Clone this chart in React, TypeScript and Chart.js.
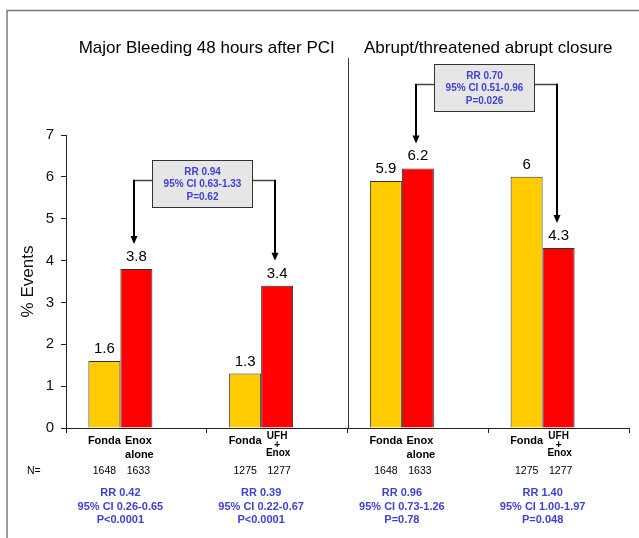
import React, { useEffect, useRef } from "react";
import { Chart, registerables } from "chart.js";

Chart.register(...registerables);

// ---------- data ----------
const groups = [
  "Major bleeding: Fonda vs Enox alone",
  "Major bleeding: Fonda vs UFH + Enox",
  "Abrupt closure: Fonda vs Enox alone",
  "Abrupt closure: Fonda vs UFH + Enox",
];
const fondaValues = [1.6, 1.3, 5.9, 6];
const comparatorValues = [3.8, 3.4, 6.2, 4.3];
const fondaLabel = "Fonda";
const comparatorLabels = [
  ["Enox", "alone"],
  ["UFH", "+", "Enox"],
  ["Enox", "alone"],
  ["UFH", "+", "Enox"],
];
const nLabel = "N=";
const fondaN = [1648, 1275, 1648, 1275];
const comparatorN = [1633, 1277, 1633, 1277];
const groupStats = [
  ["RR 0.42", "95% CI 0.26-0.65", "P<0.0001"],
  ["RR 0.39", "95% CI 0.22-0.67", "P<0.0001"],
  ["RR 0.96", "95% CI 0.73-1.26", "P=0.78"],
  ["RR 1.40", "95% CI 1.00-1.97", "P=0.048"],
];
const panelTitles = ["Major Bleeding 48 hours after PCI", "Abrupt/threatened abrupt closure"];
const comparisonStats = [
  ["RR 0.94", "95% CI 0.63-1.33", "P=0.62"],
  ["RR 0.70", "95% CI 0.51-0.96", "P=0.026"],
];
const yAxisTitle = "% Events";
const yMin = 0;
const yMax = 7;
const yStep = 1;

// ---------- style ----------
const FONT = '"Liberation Sans", Arial, Helvetica, sans-serif';
const BLUE = "#4141cf";
const YELLOW = "#FFCC00";
const RED = "#FF0000";

const overlay = {
  id: "overlay",
  beforeDraw(chart: any) {
    const { ctx, width, height } = chart;
    ctx.save();
    ctx.fillStyle = "#ffffff";
    ctx.fillRect(0, 0, width, height);
    ctx.strokeStyle = "#7a7a7a";
    ctx.lineWidth = 1.5;
    ctx.beginPath();
    ctx.moveTo(7, height);
    ctx.lineTo(7, 10.5);
    ctx.lineTo(width, 10.5);
    ctx.stroke();
    ctx.restore();
  },
  afterDraw(chart: any) {
    const { ctx, chartArea } = chart;
    const xs = chart.scales.x;
    const ys = chart.scales.y;
    const fMeta = chart.getDatasetMeta(0);
    const cMeta = chart.getDatasetMeta(1);
    const n = groups.length;
    const bound = (i: number) => xs.left + (i * (xs.right - xs.left)) / n;
    const bottom = chartArea.bottom;

    ctx.save();
    // divider between panels
    const dx = Math.round(bound(2)) + 0.5;
    ctx.strokeStyle = "#333";
    ctx.lineWidth = 1;
    ctx.beginPath();
    ctx.moveTo(dx, 58);
    ctx.lineTo(dx, bottom);
    ctx.stroke();

    // panel titles
    ctx.fillStyle = "#000";
    ctx.textAlign = "center";
    ctx.textBaseline = "middle";
    ctx.font = `17px ${FONT}`;
    ctx.fillText(panelTitles[0], (bound(0) + bound(2)) / 2, 48);
    ctx.fillText(panelTitles[1], (bound(2) + bound(4)) / 2, 48);

    // value labels
    ctx.font = `15px ${FONT}`;
    ctx.textBaseline = "alphabetic";
    fMeta.data.forEach((el: any, i: number) => {
      ctx.fillText(String(fondaValues[i]), el.x, el.y - 8);
    });
    cMeta.data.forEach((el: any, i: number) => {
      ctx.fillText(String(comparatorValues[i]), el.x, el.y - 8);
    });

    // category labels
    ctx.textBaseline = "middle";
    for (let i = 0; i < n; i++) {
      const fx = fMeta.data[i].x;
      const cx = cMeta.data[i].x;
      ctx.fillStyle = "#000";
      ctx.font = `bold 11px ${FONT}`;
      ctx.fillText(fondaLabel, fx, bottom + 13);
      const lines = comparatorLabels[i];
      if (lines.length === 2) {
        ctx.fillText(lines[0], cx + 2, bottom + 13);
        ctx.fillText(lines[1], cx + 3, bottom + 27);
      } else {
        ctx.font = `bold 10px ${FONT}`;
        ctx.fillText(lines[0], cx, bottom + 8);
        ctx.fillText(lines[1], cx, bottom + 17);
        ctx.fillText(lines[2], cx + 1, bottom + 25);
      }
      // N row
      ctx.font = `10.5px ${FONT}`;
      ctx.fillText(String(fondaN[i]), fx, bottom + 43);
      ctx.fillText(String(comparatorN[i]), cx + 2, bottom + 43);
      // stats
      ctx.fillStyle = BLUE;
      ctx.font = `bold 11px ${FONT}`;
      const sx = (fx + cx) / 2;
      groupStats[i].forEach((t, k) => ctx.fillText(t, sx, bottom + 65 + k * 13.5));
    }
    ctx.fillStyle = "#000";
    ctx.font = `10.5px ${FONT}`;
    ctx.textAlign = "left";
    ctx.fillText(nLabel, 27, bottom + 43);

    // comparison boxes with arrows
    const boxTopValues = [6.4, 8.7];
    for (let k = 0; k < 2; k++) {
      const e1 = cMeta.data[2 * k];
      const e2 = cMeta.data[2 * k + 1];
      const a1 = Math.round(e1.x - 2);
      const a2 = Math.round(e2.x - 2);
      const bw = 100;
      const bh = 47;
      const bcx = (a1 + a2) / 2 - 3;
      const bl = Math.round(bcx - bw / 2) + 0.5;
      const bt = Math.round(ys.getPixelForValue(boxTopValues[k])) + 0.5;
      const cy = bt + 20;

      // horizontal connectors
      ctx.strokeStyle = "#444";
      ctx.lineWidth = 1.5;
      ctx.beginPath();
      ctx.moveTo(bl, cy);
      ctx.lineTo(a1, cy);
      ctx.moveTo(bl + bw, cy);
      ctx.lineTo(a2, cy);
      ctx.stroke();

      // vertical arrows
      [
        [a1, e1.y - 25],
        [a2, e2.y - 25],
      ].forEach(([ax, tip]) => {
        ctx.strokeStyle = "#000";
        ctx.lineWidth = 2;
        ctx.beginPath();
        ctx.moveTo(ax, cy - 0.75);
        ctx.lineTo(ax, tip - 6);
        ctx.stroke();
        ctx.fillStyle = "#000";
        ctx.beginPath();
        ctx.moveTo(ax - 3.5, tip - 8);
        ctx.lineTo(ax + 3.5, tip - 8);
        ctx.lineTo(ax, tip);
        ctx.closePath();
        ctx.fill();
      });

      // box
      ctx.fillStyle = "#e6e6e6";
      ctx.fillRect(bl, bt, bw, bh);
      ctx.strokeStyle = "#333";
      ctx.lineWidth = 1;
      ctx.strokeRect(bl, bt, bw, bh);
      ctx.fillStyle = BLUE;
      ctx.font = `bold 10px ${FONT}`;
      ctx.textAlign = "center";
      ctx.textBaseline = "middle";
      comparisonStats[k].forEach((t, j) => ctx.fillText(t, bl + bw / 2, bt + 11.5 + j * 12.5));
    }
    ctx.restore();
  },
};

export default function App() {
  const canvasRef = useRef<HTMLCanvasElement | null>(null);

  useEffect(() => {
    const canvas = canvasRef.current;
    if (!canvas) return;
    const chart = new Chart(canvas, {
      type: "bar",
      data: {
        labels: groups,
        datasets: [
          {
            label: "Fonda",
            data: fondaValues,
            backgroundColor: YELLOW,
            borderColor: "#333",
            borderWidth: 1,
          },
          {
            label: "Comparator",
            data: comparatorValues,
            backgroundColor: RED,
            borderColor: "#333",
            borderWidth: 1,
          },
          {
            label: "",
            data: [],
          },
        ],
      },
      options: {
        responsive: false,
        animation: false,
        devicePixelRatio: 1,
        layout: { padding: { left: 18, right: 10, top: 135, bottom: 0 } },
        datasets: {
          bar: { barPercentage: 1, categoryPercentage: 0.682 },
        },
        plugins: {
          legend: { display: false },
          tooltip: { enabled: false },
          title: { display: false },
        },
        scales: {
          x: {
            ticks: { display: false },
            grid: { drawOnChartArea: false, drawTicks: true, tickLength: 5, color: "#222", offset: true },
            border: { display: true, color: "#222", width: 1 },
            afterFit: (s: any) => {
              s.height = 110;
            },
          },
          y: {
            min: yMin,
            max: yMax,
            ticks: { stepSize: yStep, color: "#111", font: { family: FONT, size: 15 }, padding: 7 },
            grid: { drawOnChartArea: false, drawTicks: true, tickLength: 5, color: "#222" },
            border: { display: true, color: "#222", width: 1 },
            title: {
              display: true,
              text: yAxisTitle,
              color: "#111",
              font: { family: FONT, size: 17 },
              padding: { top: 0, bottom: 0 },
            },
            afterFit: (s: any) => {
              s.width = 48;
            },
          },
        },
      } as any,
      plugins: [overlay],
    });
    return () => chart.destroy();
  }, []);

  return (
    <div style={{ position: "fixed", left: 0, top: 0, width: 639, height: 538, background: "#fff" }}>
      <canvas ref={canvasRef} width={639} height={538} style={{ display: "block", width: 639, height: 538 }} />
    </div>
  );
}
